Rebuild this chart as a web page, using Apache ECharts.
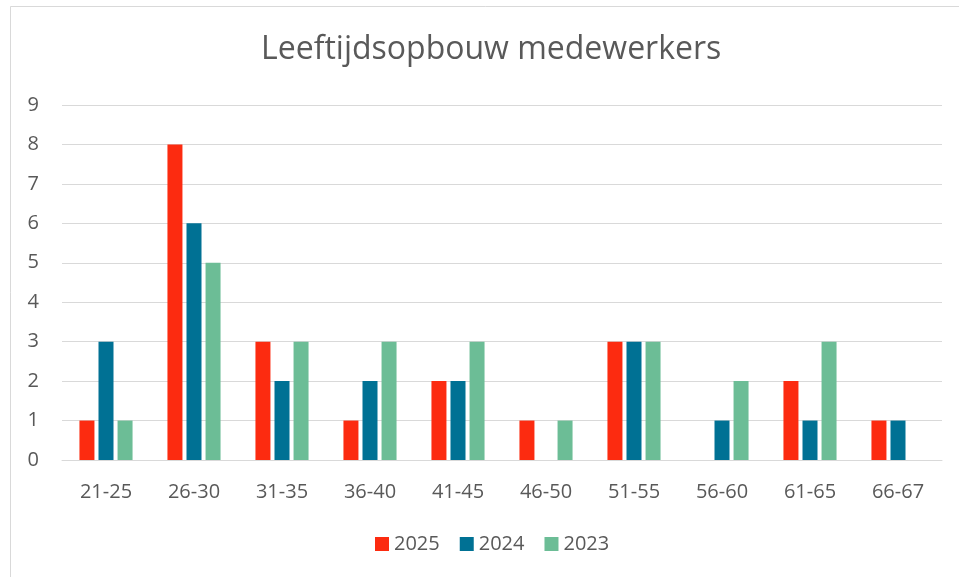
<!DOCTYPE html>
<html>
<head>
<meta charset="utf-8">
<script src="https://cdn.jsdelivr.net/npm/echarts@6/dist/echarts.min.js"></script>
<style>
  html, body { margin: 0; padding: 0; background: #fff; }
  #chart { width: 959px; height: 577px; }
</style>
</head>
<body>
<div id="chart"></div>
<script>
// leeftijdsgroepen
const categories = ['21-25', '26-30', '31-35', '36-40', '41-45', '46-50', '51-55', '56-60', '61-65', '66-67']
const data2025 = [1, 8, 3, 1, 2, 1, 3, 0, 2, 1]
const data2024 = [3, 6, 2, 2, 2, 0, 3, 1, 1, 1]
const data2023 = [1, 5, 3, 3, 3, 1, 3, 2, 3, 0]
const yTicks = { min: 0, max: 9, interval: 1 }

const textColor = '#595959'
const fontFam = '"Open Sans", "Liberation Sans", sans-serif'

const chart = echarts.init(document.getElementById('chart'))

function barSeries(name, values, color) {
  return {
    name: name,
    type: 'bar',
    data: values,
    barWidth: 15,
    barGap: '27%',
    itemStyle: { color: color },
    emphasis: { disabled: true }
  }
}

const option = {
  animation: false,
  backgroundColor: '#fff',
  textStyle: { fontFamily: fontFam },
  graphic: [
    {
      type: 'rect',
      shape: { x: 10.5, y: 6.5, width: 960, height: 580 },
      style: { fill: 'none', stroke: '#D9D9D9', lineWidth: 1 },
      silent: true
    }
  ],
  title: {
    text: 'Leeftijdsopbouw medewerkers',
    left: 256,
    top: 29,
    textStyle: {
      fontFamily: fontFam,
      fontSize: 32,
      fontWeight: 'normal',
      color: textColor
    }
  },
  grid: {
    left: 62,
    right: 17,
    top: 105,
    bottom: 117
  },
  legend: {
    bottom: 18,
    left: 370,
    itemWidth: 14,
    itemHeight: 14,
    itemGap: 20,
    icon: 'rect',
    textStyle: { fontSize: 20, color: textColor, fontFamily: fontFam },
    data: ['2025', '2024', '2023']
  },
  xAxis: {
    type: 'category',
    data: categories,
    axisTick: { show: false },
    axisLine: { lineStyle: { color: '#D9D9D9', width: 1 } },
    axisLabel: { fontSize: 20, color: textColor, margin: 22 }
  },
  yAxis: {
    type: 'value',
    min: yTicks.min,
    max: yTicks.max,
    interval: yTicks.interval,
    axisLine: { show: false },
    axisTick: { show: false },
    axisLabel: { fontSize: 20, color: textColor, margin: 23 },
    splitLine: { lineStyle: { color: '#D9D9D9', width: 1 } }
  },
  series: [
    barSeries('2025', data2025, '#FC2B10'),
    barSeries('2024', data2024, '#007194'),
    barSeries('2023', data2023, '#6CBD96')
  ]
}

chart.setOption(option)
</script>
</body>
</html>
